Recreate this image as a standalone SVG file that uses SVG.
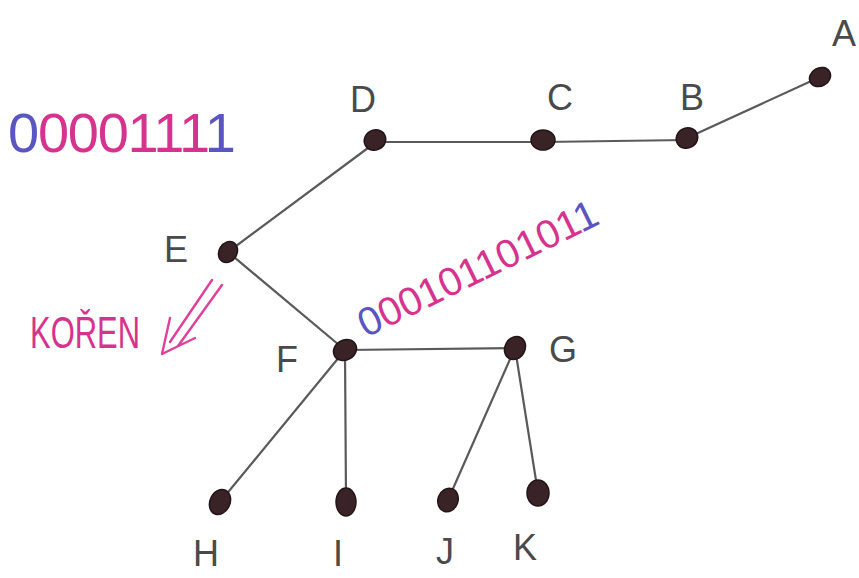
<svg xmlns="http://www.w3.org/2000/svg" width="859" height="578" viewBox="0 0 859 578">
<defs>
<style>
.edge{stroke:#5a5a5a;stroke-width:2.2;fill:none;stroke-linecap:round}
.node{fill:#3a2326;stroke:#231416;stroke-width:1.5}
.lbl{font-family:"Liberation Sans",Arial,sans-serif;font-size:36px;fill:#4a4a4a}
.bin{font-family:"Liberation Sans",Arial,sans-serif;fill:#d6338f}
.blue{fill:#5a55c0}
.pink{stroke:#e0409a;stroke-width:2.4;fill:none;stroke-linecap:round;stroke-linejoin:round}
</style>
</defs>
<rect width="859" height="578" fill="#ffffff"/>
<g id="connectors">
<path class="edge" d="M820,77 L687,138"/>
<path class="edge" d="M687,140 L543,142"/>
<path class="edge" d="M543,142 L375,142"/>
<path class="edge" d="M372,145 L228,252"/>
<path class="edge" d="M228,252 L345,350"/>
<path class="edge" d="M345,350 L515,348"/>
<path class="edge" d="M345,350 L220,502"/>
<path class="edge" d="M345,350 L346,500"/>
<path class="edge" d="M515,348 L448,500"/>
<path class="edge" d="M515,348 L538,493"/>
</g>
<g id="A"><ellipse class="node" cx="820" cy="77" rx="11" ry="9" transform="rotate(-30 820 77)"/><text class="lbl" x="832" y="46">A</text></g>
<g id="B"><ellipse class="node" cx="687" cy="138" rx="11" ry="10" transform="rotate(-30 687 138)"/><text class="lbl" x="680" y="110">B</text></g>
<g id="C"><ellipse class="node" cx="543" cy="140" rx="12" ry="10"/><text class="lbl" x="547" y="110">C</text></g>
<g id="D"><ellipse class="node" cx="375" cy="140" rx="11" ry="10" transform="rotate(-30 375 140)"/><text class="lbl" x="350" y="112">D</text></g>
<g id="E"><ellipse class="node" cx="228" cy="252" rx="9" ry="11" transform="rotate(30 228 252)"/><text class="lbl" x="164" y="262">E</text></g>
<g id="F"><ellipse class="node" cx="345" cy="350" rx="12" ry="10" transform="rotate(-30 345 350)"/><text class="lbl" x="276" y="372">F</text></g>
<g id="G"><ellipse class="node" cx="515" cy="348" rx="10" ry="12" transform="rotate(30 515 348)"/><text class="lbl" x="549" y="362">G</text></g>
<g id="H"><ellipse class="node" cx="220" cy="502" rx="10" ry="13" transform="rotate(25 220 502)"/><text class="lbl" x="193" y="566">H</text></g>
<g id="I"><ellipse class="node" cx="346" cy="502" rx="10" ry="14"/><text class="lbl" x="333" y="566">I</text></g>
<g id="J"><ellipse class="node" cx="448" cy="500" rx="10" ry="12" transform="rotate(20 448 500)"/><text class="lbl" x="436" y="564">J</text></g>
<g id="K"><ellipse class="node" cx="538" cy="493" rx="11" ry="13"/><text class="lbl" x="513" y="560">K</text></g>
<g id="code1"><text class="bin" x="8" y="152" font-size="56" textLength="228" lengthAdjust="spacing"><tspan class="blue">0</tspan>000111<tspan class="blue">1</tspan></text></g>
<g id="code2"><text class="bin" x="0" y="0" font-size="40" textLength="262" lengthAdjust="spacing" transform="translate(366,338) rotate(-26)"><tspan class="blue">0</tspan>0010110101<tspan class="blue">1</tspan></text></g>
<g id="root"><text class="bin" x="30" y="348" font-size="44" textLength="110" lengthAdjust="spacingAndGlyphs">KOŘEN</text>
<path class="pink" d="M212,280 L170,342 M222,285 L178,346 M162,354 L170,318 M162,354 L195,338"/></g>
</svg>
